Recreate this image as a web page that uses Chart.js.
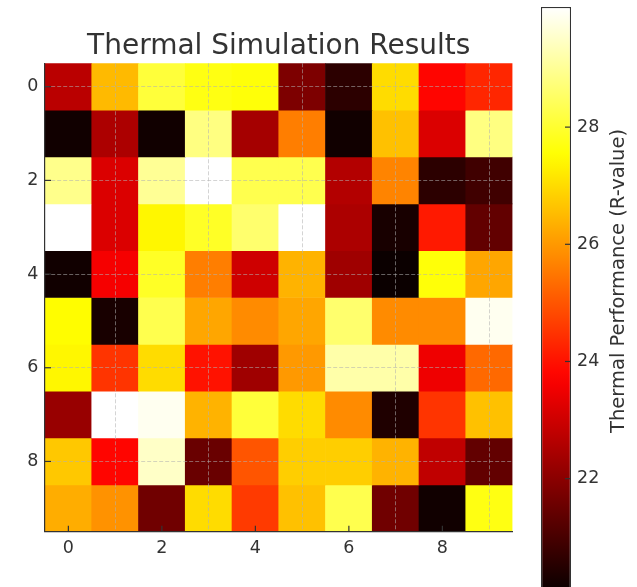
<!DOCTYPE html>
<html>
<head>
<meta charset="utf-8">
<script src="https://cdn.jsdelivr.net/npm/chart.js@4/dist/chart.umd.min.js"></script>
<style>
  html, body { margin: 0; padding: 0; background: #fff; overflow: hidden; width: 637px; height: 587px; }
  #main, #cbar { position: absolute; left: 0; top: 0; }
</style>
</head>
<body>
<canvas id="main" width="637" height="587"></canvas>
<canvas id="cbar" width="637" height="600"></canvas>
<script>
// ---------- data ----------
const cols = [0, 1, 2, 3, 4, 5, 6, 7, 8, 9];
const xTicks = [0, 2, 4, 6, 8];
const yTicks = [0, 2, 4, 6, 8];
const cbTicks = [22, 24, 26, 28];
const vMin = 20.1;
const vMax = 30.05;
const titleText = 'Thermal Simulation Results';
const cbLabel = 'Thermal Performance (R-value)';

const row0 = [22.7, 26.5, 28.1, 27.7, 27.6, 21.8, 20.6, 27.0, 23.8, 24.3];
const row1 = [20.2, 22.5, 20.2, 28.8, 22.4, 25.6, 20.2, 26.6, 23.2, 28.8];
const row2 = [28.9, 23.2, 29.0, 30.05, 28.3, 28.3, 22.6, 25.7, 20.6, 20.9];
const row3 = [30.05, 23.2, 27.4, 27.9, 28.6, 30.05, 22.5, 20.3, 24.1, 21.4];
const row4 = [20.2, 23.6, 27.9, 25.6, 23.0, 26.4, 22.3, 20.1, 27.6, 26.2];
const row5 = [27.5, 20.3, 28.3, 26.2, 25.8, 26.2, 28.6, 25.8, 25.8, 29.9];
const row6 = [27.4, 24.5, 27.0, 24.0, 22.3, 26.0, 29.2, 29.2, 23.5, 25.3];
const row7 = [22.2, 30.05, 29.9, 26.4, 28.1, 27.0, 25.8, 20.4, 24.5, 26.6];
const row8 = [26.7, 23.8, 29.5, 21.5, 25.0, 26.8, 26.8, 26.4, 22.8, 21.4];
const row9 = [26.3, 25.9, 21.6, 27.0, 24.6, 26.6, 28.3, 21.6, 20.2, 27.7];
const rows = [row0, row1, row2, row3, row4, row5, row6, row7, row8, row9];

// ---------- colormap ('hot') ----------
function hot(t) {
  t = Math.max(0, Math.min(1, t));
  const a = 0.365079, b = 0.746032;
  const r = t < a ? 0.0416 + (1 - 0.0416) * t / a : 1;
  const g = t < a ? 0 : (t < b ? (t - a) / (b - a) : 1);
  const bl = t < b ? 0 : (t - b) / (1 - b);
  return `rgb(${Math.round(r * 255)},${Math.round(g * 255)},${Math.round(bl * 255)})`;
}
const colorFor = v => hot((v - vMin) / (vMax - vMin));

Chart.defaults.font.family = "'DejaVu Sans', sans-serif";
Chart.defaults.color = '#333';

const TXT = '#333';
const FS = 17.5;

// inward tick marks drawn from the scales
const innerTicks = {
  id: 'innerTicks',
  afterDraw(chart, args, opts) {
    const ctx = chart.ctx;
    ctx.save();
    ctx.strokeStyle = TXT;
    ctx.lineWidth = 1.2;
    (opts.axes || []).forEach(id => {
      const s = chart.scales[id];
      s.ticks.forEach((t, i) => {
        const p = s.getPixelForTick(i);
        ctx.beginPath();
        if (s.isHorizontal()) {
          ctx.moveTo(p, s.top); ctx.lineTo(p, s.top - 6);
        } else if (s.position === 'left') {
          ctx.moveTo(s.right, p); ctx.lineTo(s.right + 6, p);
        } else {
          ctx.moveTo(s.left, p); ctx.lineTo(s.left - 6, p);
        }
        ctx.stroke();
      });
    });
    ctx.restore();
  }
};

// ---------- heatmap ----------
const datasets = rows.map((vals, r) => ({
  data: cols.map(c => ({ x: c, y: [r - 0.5, r + 0.5] })),
  backgroundColor: vals.map(colorFor),
  borderWidth: 0,
  grouped: false,
  barPercentage: 1,
  categoryPercentage: 1
}));

new Chart(document.getElementById('main'), {
  type: 'bar',
  data: { datasets },
  plugins: [innerTicks],
  options: {
    responsive: false,
    animation: false,
    devicePixelRatio: 1,
    layout: { padding: { left: 0, right: 124.5, top: 0, bottom: 0 } },
    plugins: {
      legend: { display: false },
      tooltip: { enabled: false },
      title: {
        display: true,
        text: titleText,
        fullSize: false,
        color: TXT,
        font: { size: 28, weight: 'normal' },
        padding: { top: 29.5, bottom: 0.2 }
      },
      innerTicks: { axes: ['x', 'y'] }
    },
    scales: {
      x: {
        type: 'linear',
        min: -0.5, max: 9.5,
        offset: false,
        afterBuildTicks: s => { s.ticks = xTicks.map(v => ({ value: v })); },
        afterFit: s => { s.height = 587 - 531.7; s.paddingLeft = 0; s.paddingRight = 0; },
        ticks: { color: TXT, font: { size: FS }, padding: 6.5, maxRotation: 0 },
        grid: { color: 'rgba(176,176,176,0.55)', lineWidth: 1, drawTicks: false, z: 1 },
        border: { display: true, color: TXT, width: 1.2, dash: [4, 2], z: 2 }
      },
      y: {
        type: 'linear',
        reverse: true,
        min: -0.5, max: 9.5,
        afterBuildTicks: s => { s.ticks = yTicks.map(v => ({ value: v })); },
        afterFit: s => { s.width = 45; s.paddingTop = 0; s.paddingBottom = 0; },
        ticks: { color: TXT, font: { size: FS }, padding: 6.5 },
        grid: { color: 'rgba(176,176,176,0.55)', lineWidth: 1, drawTicks: false, z: 1 },
        border: { display: true, color: TXT, width: 1.2, dash: [4, 2], z: 2 }
      }
    }
  }
});

// ---------- colorbar ----------
const stops = [];
for (let i = 0; i <= 40; i++) stops.push(i / 40);

const cbTitle = {
  id: 'cbTitle',
  afterDraw(chart) {
    const ctx = chart.ctx;
    ctx.save();
    ctx.fillStyle = TXT;
    ctx.font = "19.5px 'DejaVu Sans'";
    ctx.textAlign = 'center';
    ctx.textBaseline = 'middle';
    ctx.translate(chart.chartArea.right + 48, 281);
    ctx.rotate(-Math.PI / 2);
    ctx.fillText(cbLabel, 0, 0);
    ctx.restore();
  }
};

new Chart(document.getElementById('cbar'), {
  type: 'bar',
  data: {
    labels: ['cb'],
    datasets: [{
      data: [[vMin, vMax]],
      barPercentage: 1,
      categoryPercentage: 1,
      borderWidth: 1.2,
      borderColor: TXT,
      borderSkipped: false,
      inflateAmount: 0,
      backgroundColor: (c) => {
        const chart = c.chart;
        if (!chart.chartArea) return '#000';
        const y = chart.scales.y;
        const g = chart.ctx.createLinearGradient(0, y.getPixelForValue(vMin), 0, y.getPixelForValue(vMax));
        stops.forEach(t => g.addColorStop(t, hot(t)));
        return g;
      }
    }]
  },
  plugins: [innerTicks, cbTitle],
  options: {
    responsive: false,
    animation: false,
    devicePixelRatio: 1,
    layout: { padding: { left: 541, right: 0, top: 7, bottom: 10 } },
    plugins: {
      legend: { display: false },
      tooltip: { enabled: false },
      innerTicks: { axes: ['y'] }
    },
    scales: {
      x: { display: false },
      y: {
        position: 'right',
        min: vMin, max: vMax,
        afterBuildTicks: s => { s.ticks = cbTicks.map(v => ({ value: v })); },
        afterFit: s => { s.width = 637 - 571; s.paddingTop = 0; s.paddingBottom = 0; },
        ticks: { color: TXT, font: { size: FS }, padding: 6 },
        grid: { display: false, drawTicks: false },
        border: { display: false }
      }
    }
  }
});
</script>
</body>
</html>
